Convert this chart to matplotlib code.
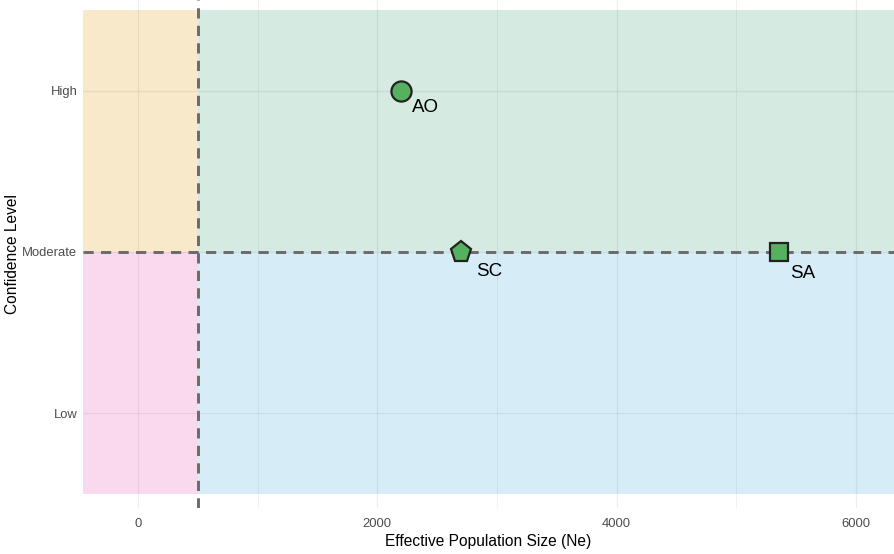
import matplotlib
matplotlib.use("Agg")
import matplotlib.pyplot as plt
from matplotlib.patches import Rectangle

plt.rcParams['font.family'] = ['Liberation Sans', 'DejaVu Sans']

# ---- data ----
populations = ["AO", "SC", "SA"]
ne_values = [2200, 2700, 5360]
confidence = ["High", "Moderate", "Moderate"]
markers = ["o", "p", "s"]
levels = ["Low", "Moderate", "High"]
x_ticks = [0, 2000, 4000, 6000]
ne_threshold = 500
conf_threshold = "Moderate"

# quadrant colours: (x side, y side) -> colour
quad_colors = {
    ("left", "upper"): "#F8E9CB",
    ("right", "upper"): "#D5EAE0",
    ("left", "lower"): "#FAD9EE",
    ("right", "lower"): "#D6EDF8",
}

level_pos = {lv: i + 1 for i, lv in enumerate(levels)}
yvals = [level_pos[c] for c in confidence]
ythr = level_pos[conf_threshold]

fig = plt.figure(figsize=(8.94, 5.54), dpi=100)
ax = fig.add_axes([83 / 894, 46 / 554, 811 / 894, 508 / 554])

XLIM = (-459, 6317)
YLIM = (0.41, 3.565)
ax.set_xlim(*XLIM)
ax.set_ylim(*YLIM)

# quadrant rectangles
rect_y = (0.5, len(levels) + 0.5)
for (xs, ys), col in quad_colors.items():
    x0, x1 = (XLIM[0], ne_threshold) if xs == "left" else (ne_threshold, XLIM[1])
    y0, y1 = (ythr, rect_y[1]) if ys == "upper" else (rect_y[0], ythr)
    ax.add_patch(Rectangle((x0, y0), x1 - x0, y1 - y0, facecolor=col,
                           edgecolor="none", zorder=0))

# grid
for sp in ax.spines.values():
    sp.set_visible(False)
ax.set_xticks(x_ticks)
ax.set_xticks([1000, 3000, 5000], minor=True)
ax.set_yticks([level_pos[l] for l in levels])
ax.set_yticklabels(levels)
ax.set_axisbelow(False)
ax.grid(True, which="major", color="black", alpha=0.065, linewidth=0.9)
ax.grid(True, which="minor", axis="x", color="black", alpha=0.05, linewidth=0.7)
ax.tick_params(which="both", length=0, labelsize=9.4, labelcolor="#4D4D4D", pad=4)
ax.tick_params(axis="x", pad=7)

# threshold lines
ax.axvline(ne_threshold, color="#6A6A6A", lw=2.1, ls=(0, (3.5, 2.5)), zorder=2.6)
ax.axhline(ythr, color="#6A6A6A", lw=2.1, ls=(0, (3.5, 2.5)), zorder=2.6)

# points
msizes = {"o": 14.5, "p": 15.8, "s": 13.3}
label_offsets = [(8, -15), (11, -17), (8, -19)]
for name, x, y, m, off in zip(populations, ne_values, yvals, markers, label_offsets):
    ax.plot([x], [y], marker=m, markersize=msizes[m], markerfacecolor="#55B160",
            markeredgecolor="#222222", markeredgewidth=1.6, linestyle="none", zorder=3)
    ax.annotate(name, (x, y), xytext=off, textcoords="offset points",
                ha="left", va="baseline", fontsize=13.5, color="black", zorder=4)

ax.set_xlabel("Effective Population Size (Ne)", fontsize=11.2, labelpad=3)
ax.set_ylabel("Confidence Level", fontsize=11.2)
ax.yaxis.set_label_coords(-63 / 811, 0.5)

fig.savefig("out.png", dpi=100)
